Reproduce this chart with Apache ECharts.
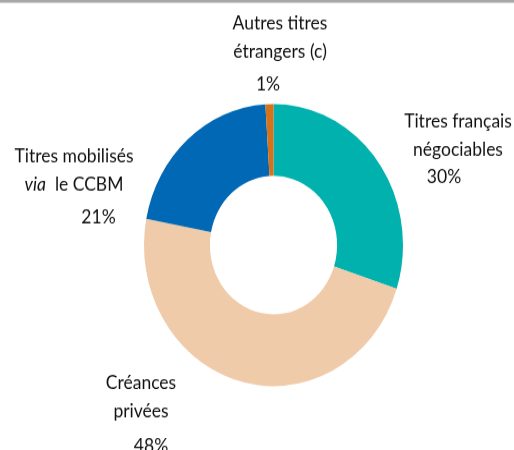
<!DOCTYPE html>
<html>
<head>
<meta charset="utf-8">
<script src="https://cdn.jsdelivr.net/npm/echarts@6/dist/echarts.min.js"></script>
<style>
  html, body { margin: 0; padding: 0; background: #fff; overflow: hidden; }
  #wrap { width: 514px; height: 450px; overflow: hidden; }
  /* the chart is drawn slightly taller than wide */
  #chart { width: 514px; height: 413px; transform: scaleY(1.0896); transform-origin: 0 0; }
</style>
</head>
<body>
<div id="wrap"><div id="chart"></div></div>
<script>
// Breakdown of pledged collateral (%)
const categories = [
  'Titres français négociables',
  'Créances privées',
  'Titres mobilisés via le CCBM',
  'Autres titres étrangers (c)'
];
const values = [30, 48, 21, 1];
const colors = ['#00B1AD', '#F0CBA9', '#0068B4', '#D4731B'];

// label text, one rich-text string per slice
const labelTexts = [
  '{n|Titres français}\n{n|négociables}\n{p30|{v}%}',
  '{n|Créances}\n{n|privées}\n{p48|{v}%}',
  '{n|Titres mobilisés}\n{i|via}{n|  le CCBM}\n{p21|{v}%}',
  '{n|Autres titres}\n{n|étrangers (c)}\n{p1|{v}%}'
];
// label anchor (top-centre of each text block)
const labelPos = [
  [458, 98.5],
  [141, 338.3],
  [74, 130.6],
  [280, 7.9]
];

const font = 'Lato, "Open Sans", sans-serif';
const txt = '#111111';
const fs = 17.5;

const chart = echarts.init(document.getElementById('chart'), null, { renderer: 'canvas' });
chart.setOption({
  animation: false,
  backgroundColor: '#fff',
  graphic: [{
    type: 'rect',
    shape: { x: 0, y: 0, width: 514, height: 2.4 },
    style: { fill: '#a8a8a8' },
    silent: true
  }],
  series: [{
    type: 'pie',
    center: [273.5, 224.9],
    radius: [63.6, 129.5],
    startAngle: 90,
    clockwise: true,
    avoidLabelOverlap: false,
    itemStyle: { borderWidth: 0 },
    labelLine: { show: false },
    label: {
      show: true,
      color: txt,
      fontFamily: font,
      fontSize: fs,
      align: 'center',
      formatter: p => labelTexts[p.dataIndex].replace('{v}', p.value),
      rich: {
        n: { fontSize: fs, fontFamily: font, color: txt, lineHeight: 26 },
        i: { fontSize: fs, fontFamily: font, color: txt, lineHeight: 26, fontStyle: 'italic' },
        p1: { fontSize: fs, fontFamily: font, color: txt, lineHeight: 34.6, padding: [0, 24, 0, 0] },
        p30: { fontSize: fs, fontFamily: font, color: txt, lineHeight: 23.6, padding: [0, 28, 0, 0] },
        p21: { fontSize: fs, fontFamily: font, color: txt, lineHeight: 32.8, padding: [0, 0, 0, 49] },
        p48: { fontSize: fs, fontFamily: font, color: txt, lineHeight: 38.2, padding: [0, 0, 0, 20] }
      }
    },
    labelLayout: p => ({
      x: labelPos[p.dataIndex][0],
      y: labelPos[p.dataIndex][1],
      align: 'center',
      verticalAlign: 'top'
    }),
    emphasis: { disabled: true },
    data: categories.map((name, i) => ({
      name: name,
      value: values[i],
      itemStyle: { color: colors[i] }
    }))
  }]
});
</script>
</body>
</html>
